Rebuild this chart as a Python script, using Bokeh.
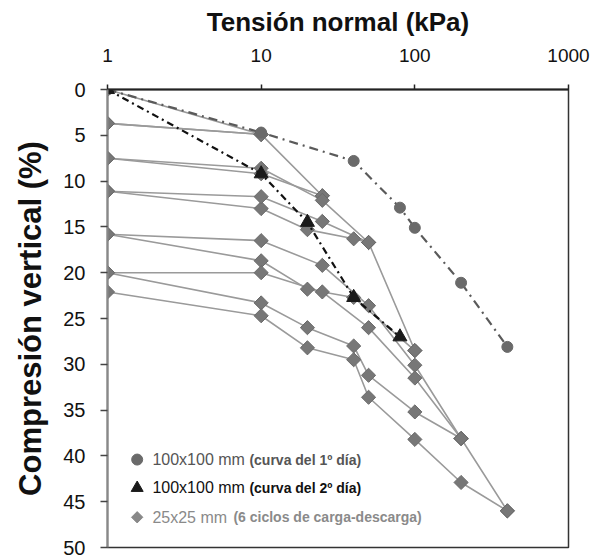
import math
from bokeh.plotting import figure
from bokeh.models import Range1d, FixedTicker, NumeralTickFormatter
from bokeh.embed import file_html
from bokeh.resources import INLINE
from bokeh.core.properties import value

# ---------------- data ----------------
x_ticks = [1, 10, 100, 1000]
y_ticks = [0, 5, 10, 15, 20, 25, 30, 35, 40, 45, 50]

# 100x100 mm, day 1 curve (circles)
day1_x = [1, 10, 40, 80, 100, 200, 400]
day1_y = [0, 4.7, 7.8, 12.9, 15.1, 21.1, 28.1]

# 100x100 mm, day 2 curve (triangles)
day2_x = [1, 10, 20, 40, 80]
day2_y = [0, 9.2, 14.5, 22.7, 27.0]

# 25x25 mm, 6 loading-unloading cycles (diamonds), one list per branch
load0_x, load0_y = [1, 10], [0, 4.9]
unl1_x, unl1_y = [10, 1], [4.9, 3.7]
rel2_x, rel2_y = [1, 10, 25], [3.7, 4.9, 11.6]
unl2_x, unl2_y = [25, 10, 1], [11.6, 9.2, 7.5]
rel3_x, rel3_y = [1, 10, 25, 50], [7.5, 8.6, 12.1, 16.7]
unl3_x, unl3_y = [50, 40, 20, 10, 1], [16.7, 16.3, 15.3, 13.0, 11.1]
rel4_x, rel4_y = [1, 10, 25, 50, 100], [11.1, 11.7, 14.4, 16.7, 28.5]
unl4_x, unl4_y = [100, 40, 20, 10, 1], [28.5, 22.7, 21.8, 18.7, 15.8]
rel5_x, rel5_y = [1, 10, 25, 50, 100, 200], [15.8, 16.5, 19.2, 23.6, 30.1, 38.1]
unl5_x, unl5_y = [200, 100, 50, 40, 20, 10, 1], [38.1, 35.2, 31.2, 28.0, 26.0, 23.3, 20.0]
rel6_x, rel6_y = [1, 10, 25, 50, 100, 200, 400], [20.0, 20.0, 22.1, 26.0, 31.5, 38.1, 46.0]
unl6_x, unl6_y = [400, 200, 100, 50, 40, 20, 10, 1], [46.0, 42.9, 38.2, 33.6, 29.5, 28.2, 24.7, 22.1]

cycles_x = [load0_x, unl1_x, rel2_x, unl2_x, rel3_x, unl3_x, rel4_x, unl4_x,
            rel5_x, unl5_x, rel6_x, unl6_x]
cycles_y = [load0_y, unl1_y, rel2_y, unl2_y, rel3_y, unl3_y, rel4_y, unl4_y,
            rel5_y, unl5_y, rel6_y, unl6_y]

legend_main = ["100x100 mm", "100x100 mm", "25x25 mm"]
legend_note = ["(curva del 1º día)", "(curva del 2º día)", "(6 ciclos de carga-descarga)"]

# ---------------- figure ----------------
FONT = "Liberation Sans"
p = figure(width=594, height=557, x_axis_type="log", x_axis_location="above",
           x_range=Range1d(1, 1000), y_range=Range1d(50, 0),
           output_backend="svg", toolbar_location=None,
           min_border_left=107, min_border_right=26, min_border_top=89,
           min_border_bottom=10)
p.background_fill_color = "white"
p.border_fill_color = "white"
p.grid.visible = False
p.outline_line_color = "#333333"
p.outline_line_width = 1.5

xa = p.xaxis[0]
xa.ticker = FixedTicker(ticks=x_ticks)
xa.formatter = NumeralTickFormatter(format="0")
xa.minor_tick_line_color = None
xa.major_tick_out = 5
xa.major_tick_in = 0
xa.axis_line_color = "#222222"
xa.axis_line_width = 2
xa.major_tick_line_color = "#222222"
xa.major_tick_line_width = 1.5
xa.major_label_text_font = FONT
xa.major_label_text_font_size = "19px"
xa.major_label_text_color = "#111111"
xa.major_label_standoff = 23
xa.axis_label = "Tensión normal (kPa)"
xa.axis_label_text_font = FONT
xa.axis_label_text_font_style = "bold"
xa.axis_label_text_font_size = "26px"
xa.axis_label_text_color = "#111111"
xa.axis_label_standoff = 9

ya = p.yaxis[0]
ya.ticker = FixedTicker(ticks=y_ticks)
ya.minor_tick_line_color = None
ya.major_tick_out = 7
ya.major_tick_in = 0
ya.axis_line_color = "#888888"
ya.axis_line_width = 2
ya.major_tick_line_color = "#444444"
ya.major_tick_line_width = 1.5
ya.major_label_text_font = FONT
ya.major_label_text_font_size = "20px"
ya.major_label_text_color = "#111111"
ya.major_label_standoff = 15
ya.axis_label = "Compresión vertical (%)"
ya.axis_label_text_font = FONT
ya.axis_label_text_font_style = "bold"
ya.axis_label_text_font_size = "31px"
ya.axis_label_text_color = "#111111"
ya.axis_label_standoff = 12

# diamond series (25x25 mm)
DIA_LINE = "#9a9a9a"
DIA_FILL = "#777777"
p.multi_line(cycles_x, cycles_y, line_color=DIA_LINE, line_width=1.6)
for cx, cy in zip(cycles_x, cycles_y):
    p.scatter(cx, cy, marker="square", angle=math.pi / 4, size=10,
              fill_color=DIA_FILL, line_color="#6a6a6a", line_width=1)

# day-1 curve (circles)
p.line(day1_x, day1_y, line_color="#5a5a5a", line_width=2.2, line_dash="9 5 2 5")
p.scatter(day1_x, day1_y, marker="circle", size=11, fill_color="#6a6a6a",
          line_color="#6a6a6a")

# day-2 curve (triangles)
p.line(day2_x, day2_y, line_color="#111111", line_width=2.2, line_dash="7 4 2 4")
p.scatter(day2_x, day2_y, marker="triangle", size=14, fill_color="#1a1a1a",
          line_color="#1a1a1a")

# ---------------- legend (inside the plot) ----------------
leg_colors = ["#555555", "#111111", "#8a8a8a"]
leg_markers = ["circle", "triangle", "square"]
leg_angles = [0, 0, math.pi / 4]
leg_sizes = [11, 12, 8]
leg_marker_colors = ["#6a6a6a", "#1a1a1a", "#888888"]
leg_y = [40.4, 43.5, 46.7]
leg_mx = 1.56
leg_tx = 1.96
note_off = [97, 97, 81]
for i in range(3):
    p.scatter([leg_mx], [leg_y[i]], marker=leg_markers[i], size=leg_sizes[i],
              angle=leg_angles[i],
              fill_color=leg_marker_colors[i], line_color=leg_marker_colors[i])
    p.text([leg_tx], [leg_y[i]], text=[legend_main[i]], text_font=value(FONT),
           text_font_size="16px", text_color=leg_colors[i],
           text_baseline="middle", text_align="left")
    p.text([leg_tx], [leg_y[i]], text=[legend_note[i]], text_font=value(FONT),
           text_font_size="14px", text_font_style="bold", text_color=leg_colors[i],
           text_baseline="middle", text_align="left", x_offset=note_off[i])

open("out.html", "w").write(file_html(p, INLINE))
